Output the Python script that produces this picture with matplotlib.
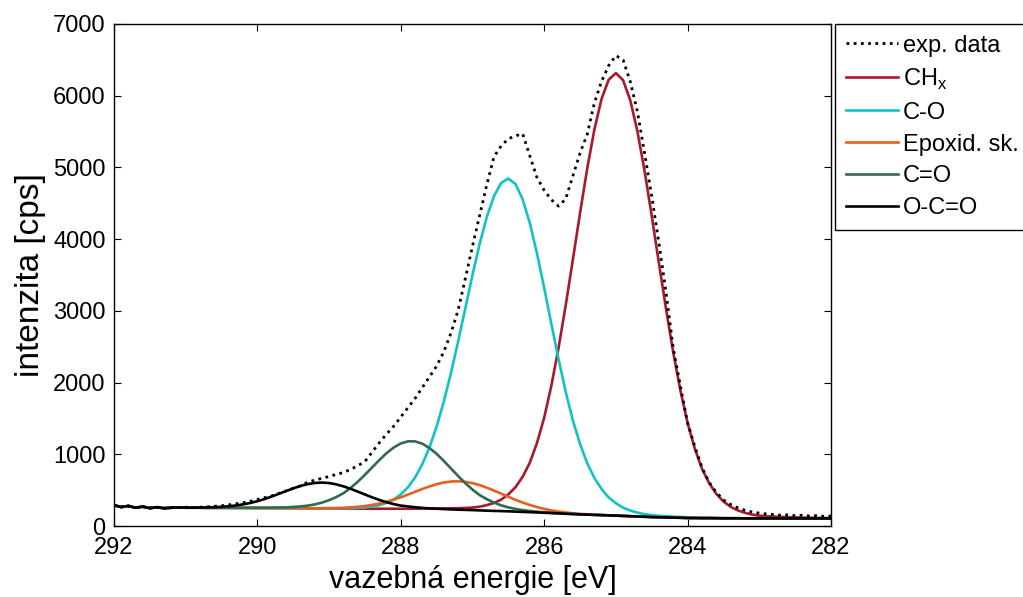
import numpy as np
import matplotlib.pyplot as plt

plt.rcParams['font.family'] = ['Liberation Sans', 'DejaVu Sans']

# ------------------------------------------
# C1s spectrum, values
# grid: 292.0 -> 282.0 eV, step 0.1 eV
# ------------------------------------------
energy = np.round(np.linspace(292.0, 282.0, 101), 1)

exp_data = np.array([
    290, 265, 280, 255, 270, 250, 262, 248, 255, 258,
    262, 258, 262, 268, 275, 282, 295, 310, 325, 345,
    370, 395, 420, 455, 490, 525, 560, 610, 640, 665,
    690, 720, 745, 790, 840, 900, 1030, 1160, 1280, 1390,
    1520, 1650, 1780, 1930, 2080, 2230, 2430, 2690, 3010, 3450,
    3900, 4330, 4760, 5150, 5300, 5400, 5440, 5470, 5160, 4860,
    4680, 4550, 4460, 4560, 4880, 5200, 5460, 5900, 6200, 6420,
    6560, 6500, 6200, 5780, 5200, 4600, 3950, 3250, 2480, 1950,
    1440, 1110, 820, 610, 470, 365, 300, 255, 220, 195,
    180, 168, 160, 150, 155, 145, 150, 140, 145, 135,
    140])

# Shirley background under the fitted components
background = np.array([
    290, 265, 280, 255, 270, 250, 262, 248, 255, 258,
    255, 255, 255, 254, 254, 254, 254, 253, 253, 252,
    252, 251, 251, 250, 249, 249, 248, 247, 246, 246,
    245, 244, 243, 243, 242, 241, 240, 239, 238, 237,
    236, 235, 234, 233, 231, 230, 228, 226, 224, 222,
    220, 217, 214, 211, 208, 205, 201, 197, 193, 189,
    185, 180, 176, 171, 167, 162, 159, 155, 152, 148,
    145, 141, 137, 133, 129, 125, 122, 120, 117, 115,
    112, 111, 110, 110, 109, 108, 108, 108, 107, 107,
    107, 107, 107, 106, 106, 106, 106, 106, 106, 106,
    106])

# component peaks (above background)
ch_x = np.array([
    0, 0, 0, 0, 0, 0, 0, 0, 0, 0,
    0, 0, 0, 0, 0, 0, 0, 0, 0, 0,
    0, 0, 0, 0, 0, 0, 0, 0, 0, 0,
    0, 0, 0, 0, 0, 0, 1, 2, 3, 4,
    5, 6, 8, 10, 12, 14, 17, 21, 25, 30,
    37, 53, 77, 110, 160, 235, 340, 490, 690, 970,
    1325, 1775, 2305, 2904, 3547, 4200, 4824, 5372, 5802, 6076,
    6170, 6076, 5802, 5372, 4824, 4200, 3547, 2904, 2305, 1775,
    1325, 970, 690, 490, 340, 235, 160, 110, 77, 53,
    37, 30, 25, 21, 17, 14, 12, 10, 8, 6,
    5])

c_o = np.array([
    0, 0, 0, 0, 0, 0, 0, 0, 0, 0,
    0, 0, 0, 0, 0, 0, 0, 0, 0, 0,
    0, 0, 0, 0, 0, 0, 0, 0, 0, 0,
    1, 2, 4, 6, 11, 18, 31, 51, 84, 132,
    204, 305, 444, 628, 864, 1157, 1507, 1907, 2349, 2814,
    3279, 3717, 4095, 4390, 4576, 4640, 4568, 4358, 4030, 3611,
    3137, 2640, 2154, 1703, 1305, 985, 717, 516, 364, 250,
    172, 116, 78, 54, 36, 26, 21, 17, 14, 11,
    9, 7, 5, 4, 3, 2, 1, 0, 0, 0,
    0, 0, 0, 0, 0, 0, 0, 0, 0, 0,
    0])

epoxid = np.array([
    0, 0, 0, 0, 0, 0, 0, 0, 0, 0,
    0, 0, 0, 0, 0, 0, 0, 0, 0, 0,
    0, 0, 0, 0, 0, 0, 0, 1, 2, 3,
    4, 7, 11, 18, 26, 38, 54, 75, 100, 130,
    164, 203, 243, 283, 320, 353, 378, 394, 400, 394,
    378, 353, 320, 283, 243, 203, 164, 130, 100, 75,
    54, 38, 26, 18, 11, 7, 4, 3, 2, 1,
    0, 0, 0, 0, 0, 0, 0, 0, 0, 0,
    0, 0, 0, 0, 0, 0, 0, 0, 0, 0,
    0, 0, 0, 0, 0, 0, 0, 0, 0, 0,
    0])

c_eq_o = np.array([
    0, 0, 0, 0, 0, 0, 0, 0, 0, 0,
    0, 0, 0, 0, 0, 0, 0, 0, 0, 1,
    2, 3, 5, 7, 11, 17, 25, 37, 55, 80,
    115, 160, 214, 288, 375, 473, 576, 680, 776, 857,
    915, 946, 946, 915, 857, 776, 680, 576, 473, 375,
    288, 214, 160, 115, 80, 55, 37, 25, 17, 11,
    7, 5, 3, 2, 1, 0, 0, 0, 0, 0,
    0, 0, 0, 0, 0, 0, 0, 0, 0, 0,
    0, 0, 0, 0, 0, 0, 0, 0, 0, 0,
    0, 0, 0, 0, 0, 0, 0, 0, 0, 0,
    0])

o_c_eq_o = np.array([
    0, 0, 0, 0, 0, 0, 0, 0, 0, 0,
    1, 2, 3, 5, 9, 14, 22, 33, 49, 69,
    94, 125, 160, 199, 238, 276, 310, 337, 354, 360,
    354, 337, 310, 276, 238, 199, 160, 125, 94, 69,
    49, 38, 28, 20, 15, 11, 8, 6, 4, 3,
    2, 1, 0, 0, 0, 0, 0, 0, 0, 0,
    0, 0, 0, 0, 0, 0, 0, 0, 0, 0,
    0, 0, 0, 0, 0, 0, 0, 0, 0, 0,
    0, 0, 0, 0, 0, 0, 0, 0, 0, 0,
    0, 0, 0, 0, 0, 0, 0, 0, 0, 0,
    0])

labels = ["exp. data", "CH$_\\mathregular{x}$", "C-O", "Epoxid. sk.", "C=O", "O-C=O"]
colors = ["black", "#A6192E", "#12C3C3", "#E5601E", "#2F6B4F", "black"]

# ------------------------------------------
# Plot
# ------------------------------------------
fig = plt.figure(figsize=(10.23, 5.97), dpi=100)
ax = fig.add_axes([0.1114, 0.1189, 0.7009, 0.8409])

components = [ch_x, c_o, epoxid, c_eq_o, o_c_eq_o]
handles = []

h_exp, = ax.plot(energy, exp_data, color=colors[0], linestyle=(0, (1, 1.6)),
                 linewidth=2.0, zorder=5)
handles.append(h_exp)

for comp, col in zip(components, colors[1:]):
    h, = ax.plot(energy, background + comp, color=col, linewidth=1.9, zorder=3)
    handles.append(h)

ax.set_xlim(292, 282)
ax.set_ylim(0, 7000)
ax.set_xticks(range(282, 293, 2))
ax.set_yticks(range(0, 7001, 1000))

ax.tick_params(direction="in", top=True, right=True, length=5, width=0.8,
               labelsize=17)
ax.tick_params(axis="x", pad=8)
ax.tick_params(axis="y", pad=6)
for sp in ax.spines.values():
    sp.set_linewidth(1.0)

ax.set_xlabel("vazebná energie [eV]", fontsize=22, labelpad=4)
ax.set_ylabel("intenzita [cps]", fontsize=24, labelpad=5)

leg = ax.legend(handles, labels, loc="upper left", bbox_to_anchor=(1.006, 1.0),
                borderaxespad=0, fontsize=17, frameon=True, fancybox=False,
                edgecolor="black", framealpha=1, handlelength=2.2,
                handletextpad=0.2, labelspacing=0.42, borderpad=0.45)
leg.get_frame().set_linewidth(1.0)

plt.savefig("out.png", dpi=100)
